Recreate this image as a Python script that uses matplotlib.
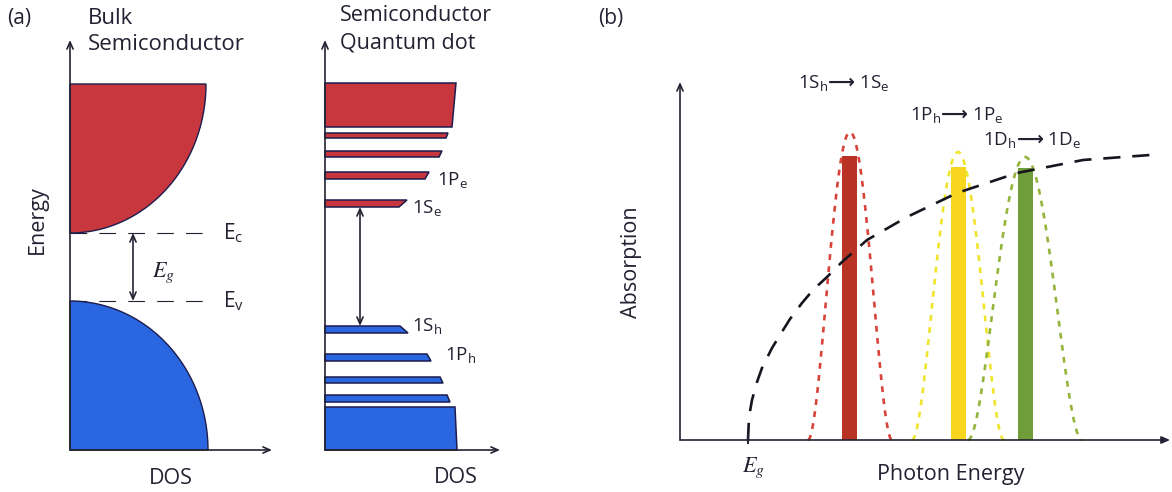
import numpy as np
import matplotlib.pyplot as plt
from matplotlib.patches import Polygon

plt.rcParams['font.family'] = ['Open Sans', 'DejaVu Sans']
plt.rcParams['mathtext.fontset'] = 'custom'
plt.rcParams['mathtext.rm'] = 'Open Sans'
plt.rcParams['mathtext.it'] = 'Open Sans:italic'
plt.rcParams['mathtext.bf'] = 'DejaVu Sans:bold'

W, H = 1172, 492

# Bulk semiconductor, arbitrary units (DOS across, energy up)
bulk_Ec = 217
bulk_Ev = 149
bulk_cb_top = 366
bulk_cb_width = 136
bulk_vb_width = 138

# Quantum dot levels: (bottom, top, right end at bottom, right end at top)
qd_cond_levels = [(323, 367, 127, 131), (312, 317, 121, 123), (293, 299, 114, 117),
                  (271, 278, 100, 104), (243, 250, 74, 82)]
qd_val_levels = [(117, 124, 83, 75), (89, 96, 106, 102), (67, 73, 118, 115),
                 (48, 55, 125, 122), (0, 43, 132, 130)]
qd_names = ['1P$_\\mathregular{e}$', '1S$_\\mathregular{e}$', '1S$_\\mathregular{h}$', '1P$_\\mathregular{h}$']
qd_name_x = [112, 87, 87, 120]
qd_name_y = [265, 237, 119, 90]

# Absorption spectrum
transitions = ['1S$_\\mathregular{h}$$\\mathbf{\u27f6}$ 1S$_\\mathregular{e}$',
               '1P$_\\mathregular{h}$$\\mathbf{\u27f6}$ 1P$_\\mathregular{e}$',
               '1D$_\\mathregular{h}$$\\mathbf{\u27f6}$ 1D$_\\mathregular{e}$']
peak_energy = [170, 278, 345]
peak_height = [284, 273, 272]
envelope_height = [308, 288, 283]
envelope_halfwidth = [42, 46, 57]
bar_colors = ['#b93325', '#f8d61e', '#6f9d3a']
envelope_colors = ['#d8443a', '#eee52c', '#94b43c']
Eg_abs = 68
bulk_abs_energy = [68, 69, 72, 77, 82, 92, 100, 110, 122, 133, 147, 162, 187, 227, 277, 337, 403, 470]
bulk_abs = [0, 23, 40, 58, 72, 92, 105, 121, 137, 150, 163, 178, 200, 223, 247, 267, 280, 285]

red = '#c8373d'
blue = '#2a66e0'
edge = '#1c1c4e'
ink = '#222233'

fig = plt.figure(figsize=(W / 100, H / 100), dpi=100)


def panel(left, top, right, bottom, x0, y0):
    ax = fig.add_axes([left / W, 1 - bottom / H, (right - left) / W, (bottom - top) / H])
    ax.set_xlim(left - x0, right - x0)
    ax.set_ylim(y0 - bottom, y0 - top)
    ax.axis('off')
    return ax


def ftext(x, y, s, **kw):
    kw.setdefault('va', 'baseline')
    return fig.text(x / W, 1 - y / H, s, color=ink, **kw)


def axis_arrows(ax, xend, yend, style='->'):
    ax.annotate('', xy=(0, yend), xytext=(0, 0),
                arrowprops=dict(arrowstyle='->,head_length=0.5,head_width=0.22', lw=1.2, color=ink,
                                shrinkA=0, shrinkB=0))
    ax.annotate('', xy=(xend, 0), xytext=(0, 0),
                arrowprops=dict(arrowstyle=style + ',head_length=0.5,head_width=0.22', lw=1.2,
                                color=ink, shrinkA=0, shrinkB=0))


# ---------------- bulk semiconductor ----------------
axA = panel(55, 30, 285, 465, 70, 450)
t = np.linspace(0, np.pi / 2, 80)
cb = np.column_stack([bulk_cb_width * np.sin(t), bulk_cb_top - (bulk_cb_top - bulk_Ec) * np.cos(t)])
cb = np.vstack([cb, [[0, bulk_cb_top]]])
axA.add_patch(Polygon(cb, closed=True, facecolor=red, edgecolor=edge, lw=1.0, zorder=2))
vb = np.column_stack([bulk_vb_width * np.sin(t), bulk_Ev * np.cos(t)])
vb = np.vstack([vb, [[0, 0]]])
axA.add_patch(Polygon(vb, closed=True, facecolor=blue, edgecolor=edge, lw=1.0, zorder=2))
for e in (bulk_Ec, bulk_Ev):
    axA.plot([0, 140], [e, e], color=ink, lw=0.8, dashes=(15, 11), zorder=1)
axA.annotate('', xy=(63, bulk_Ec), xytext=(63, bulk_Ev),
             arrowprops=dict(arrowstyle='<->,head_length=0.5,head_width=0.22', lw=1.2, color=ink,
                             shrinkA=0, shrinkB=0))
axis_arrows(axA, 202, 410)
axA.text(153, bulk_Ec, 'E$_\\mathregular{c}$', fontsize=15, va='center', color=ink)
axA.text(153, bulk_Ev, 'E$_\\mathregular{v}$', fontsize=15, va='center', color=ink)
axA.text(82, 173, '$E_g$', fontsize=16, math_fontfamily='stix', color=ink, va='baseline')

ftext(7, 24, '(a)', fontsize=15)
ftext(88, 24, 'Bulk', fontsize=16)
ftext(88, 50, 'Semiconductor', fontsize=16)
ftext(37, 220, 'Energy', fontsize=15.5, rotation=90, ha='center', va='center')
ftext(171, 484, 'DOS', fontsize=15.5, ha='center')

# ---------------- quantum dot ----------------
axQ = panel(315, 30, 505, 465, 325, 450)
for levels, col in ((qd_cond_levels, red), (qd_val_levels, blue)):
    for b, tp, rb, rt in levels:
        axQ.add_patch(Polygon([(0, b), (rb, b), (rt, tp), (0, tp)], closed=True,
                              facecolor=col, edgecolor=edge, lw=1.1, zorder=2))
for name, x, y in zip(qd_names, qd_name_x, qd_name_y):
    axQ.text(x, y, name, fontsize=13.5, color=ink, va='baseline')
axQ.annotate('', xy=(35, qd_cond_levels[-1][0]), xytext=(35, qd_val_levels[0][1]),
             arrowprops=dict(arrowstyle='<->,head_length=0.5,head_width=0.22', lw=1.2, color=ink,
                             shrinkA=0, shrinkB=0))
axis_arrows(axQ, 175, 410)
ftext(340, 21, 'Semiconductor', fontsize=15.5)
ftext(340, 48, 'Quantum dot', fontsize=15.5)
ftext(456, 483, 'DOS', fontsize=15.5, ha='center')

# ---------------- absorption spectrum ----------------
axB = panel(665, 60, 1172, 465, 680, 440)
axB.bar(peak_energy, peak_height, width=15, color=bar_colors, zorder=2)
for c, h, hw, col in zip(peak_energy, envelope_height, envelope_halfwidth, envelope_colors):
    u = np.linspace(-1, 1, 121)
    axB.plot(c + hw * u, h * (1 - u ** 2) ** 2, color=col, lw=1.9,
             dashes=(2.2, 2.4), zorder=3)
axB.plot(bulk_abs_energy, bulk_abs, color='#15151f', lw=1.9, dashes=(6.5, 4.5),
         solid_capstyle='butt', zorder=4)
axB.plot([Eg_abs, Eg_abs], [-3, 5], color=ink, lw=1.5, zorder=4)
axis_arrows(axB, 490, 358, style='-|>')
label_pos = [(798, 88), (910, 120), (983, 145)]
for s, (x, y) in zip(transitions, label_pos):
    ftext(x, y, s, fontsize=13.5)
ftext(742, 472, '$E_g$', fontsize=16, math_fontfamily='stix')
ftext(598, 24, '(b)', fontsize=15)
ftext(631, 262, 'Absorption', fontsize=15.5, rotation=90, ha='center', va='center')
ftext(951, 480, 'Photon Energy', fontsize=15.5, ha='center')

fig.savefig('out.png', dpi=100)
